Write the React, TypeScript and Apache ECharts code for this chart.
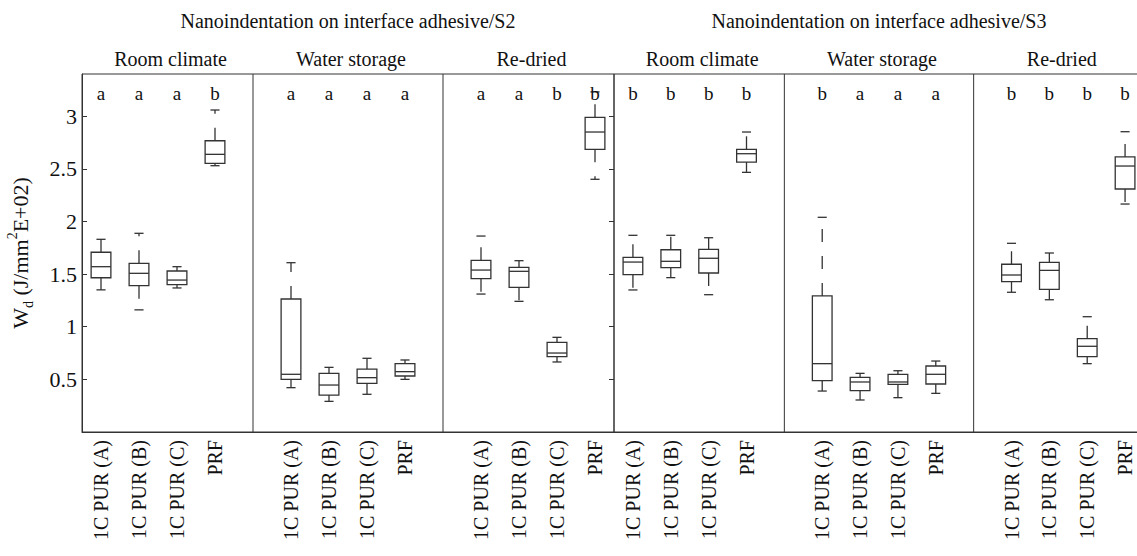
import React, { useEffect, useRef } from 'react';
import * as echarts from 'echarts';

const materials = ['1C PUR (A)', '1C PUR (B)', '1C PUR (C)', 'PRF'];
const conditions = ['Room climate', 'Water storage', 'Re-dried'];
const groupTitles = [
  'Nanoindentation on interface adhesive/S2',
  'Nanoindentation on interface adhesive/S3',
];
const yTicks = [0.5, 1, 1.5, 2, 2.5, 3];

// each box: [min, Q1, median, Q3, max]
const s2Room = [
  [1.35, 1.465, 1.57, 1.707, 1.83],
  [1.16, 1.39, 1.507, 1.602, 1.887],
  [1.368, 1.4, 1.443, 1.529, 1.57],
  [2.529, 2.552, 2.637, 2.766, 3.058],
];
const s2Water = [
  [0.421, 0.5, 0.548, 1.263, 1.608],
  [0.291, 0.351, 0.446, 0.557, 0.614],
  [0.358, 0.462, 0.516, 0.598, 0.7],
  [0.5, 0.532, 0.573, 0.649, 0.684],
];
const s2Redried = [
  [1.31, 1.456, 1.538, 1.63, 1.861],
  [1.241, 1.374, 1.526, 1.564, 1.627],
  [0.665, 0.715, 0.75, 0.852, 0.899],
  [2.4, 2.685, 2.849, 2.989, 3.23],
];
const s3Room = [
  [1.349, 1.494, 1.614, 1.659, 1.868],
  [1.466, 1.561, 1.621, 1.731, 1.868],
  [1.304, 1.51, 1.65, 1.735, 1.845],
  [2.466, 2.564, 2.643, 2.685, 2.849],
];
const s3Water = [
  [0.389, 0.487, 0.649, 1.292, 2.039],
  [0.304, 0.392, 0.475, 0.519, 0.557],
  [0.326, 0.453, 0.475, 0.548, 0.582],
  [0.367, 0.456, 0.548, 0.627, 0.674],
];
const s3Redried = [
  [1.327, 1.428, 1.491, 1.593, 1.792],
  [1.256, 1.355, 1.535, 1.611, 1.7],
  [0.649, 0.715, 0.814, 0.886, 1.095],
  [2.165, 2.308, 2.526, 2.612, 2.852],
];

const s2RoomLetters = ['a', 'a', 'a', 'b'];
const s2WaterLetters = ['a', 'a', 'a', 'a'];
const s2RedriedLetters = ['a', 'a', 'b', 'b'];
const s3RoomLetters = ['b', 'b', 'b', 'b'];
const s3WaterLetters = ['b', 'a', 'a', 'a'];
const s3RedriedLetters = ['b', 'b', 'b', 'b'];

const LETTER_Y = 3.216;
const Y_MAX = 3.4;

const groups = [
  { boxes: [s2Room, s2Water, s2Redried], letters: [s2RoomLetters, s2WaterLetters, s2RedriedLetters] },
  { boxes: [s3Room, s3Water, s3Redried], letters: [s3RoomLetters, s3WaterLetters, s3RedriedLetters] },
];

const FONT = '"Liberation Serif", "Times New Roman", serif';
const LINE = '#333';
const TEXT = '#111';

const GRID_TOP = 74;
const GRID_H = 358;
const GRID_LEFTS = [82, 614];
const GRID_WIDTHS = [532, 530];

export default function App() {
  const ref = useRef<HTMLDivElement>(null);

  useEffect(() => {
    const chart = echarts.init(ref.current!, null, { renderer: 'svg' });

    // categories: 4 materials per panel, a blank slot between panels
    const categories: string[] = [];
    conditions.forEach((_, p) => {
      materials.forEach((m) => categories.push(m));
      if (p < conditions.length - 1) categories.push('');
    });
    const slotsPerPanel = materials.length + 1;
    const dividerSlots = conditions.slice(0, -1).map((_, p) => [p * slotsPerPanel + materials.length, 0]);

    const boxRender = (params: any, api: any) => {
      const x = api.value(0);
      const pLo = api.coord([x, api.value(1)]);
      const pQ1 = api.coord([x, api.value(2)]);
      const pMed = api.coord([x, api.value(3)]);
      const pQ3 = api.coord([x, api.value(4)]);
      const pHi = api.coord([x, api.value(5)]);
      const band = api.size([1, 0])[0];
      const bw = band * 0.52;
      const cw = band * 0.24;
      const cx = pMed[0];
      const solid = { stroke: LINE, lineWidth: 1.3, fill: 'none' };
      const dashed = { stroke: LINE, lineWidth: 1.3, fill: 'none', lineDash: [13, 14] };
      return {
        type: 'group',
        children: [
          { type: 'line', shape: { x1: cx, y1: pQ3[1], x2: cx, y2: pHi[1] }, style: dashed },
          { type: 'line', shape: { x1: cx, y1: pQ1[1], x2: cx, y2: pLo[1] }, style: dashed },
          { type: 'line', shape: { x1: cx - cw / 2, y1: pHi[1], x2: cx + cw / 2, y2: pHi[1] }, style: solid },
          { type: 'line', shape: { x1: cx - cw / 2, y1: pLo[1], x2: cx + cw / 2, y2: pLo[1] }, style: solid },
          {
            type: 'rect',
            shape: { x: cx - bw / 2, y: pQ3[1], width: bw, height: pQ1[1] - pQ3[1] },
            style: { stroke: LINE, lineWidth: 1.3, fill: '#fff' },
          },
          { type: 'line', shape: { x1: cx - bw / 2, y1: pMed[1], x2: cx + bw / 2, y2: pMed[1] }, style: solid },
        ],
      };
    };

    const series: any[] = [];
    groups.forEach((g, gi) => {
      const boxData: number[][] = [];
      const letterData: number[][] = [];
      const letterText: string[] = [];
      g.boxes.forEach((panel, p) => {
        panel.forEach((b, j) => {
          const idx = p * slotsPerPanel + j;
          boxData.push([idx, ...b]);
          letterData.push([idx, LETTER_Y]);
          letterText.push(g.letters[p][j]);
        });
      });
      const yIdx = gi === 0 ? 0 : 2;
      series.push({
        type: 'custom',
        xAxisIndex: gi,
        yAxisIndex: yIdx,
        data: dividerSlots,
        encode: { x: 0, y: 1 },
        silent: true,
        renderItem: (params: any, api: any) => {
          const p = api.coord([api.value(0), 0]);
          const cs = params.coordSys;
          return {
            type: 'line',
            shape: { x1: p[0], y1: cs.y, x2: p[0], y2: cs.y + cs.height },
            style: { stroke: LINE, lineWidth: 1 },
          };
        },
      });
      series.push({
        type: 'custom',
        xAxisIndex: gi,
        yAxisIndex: yIdx,
        data: boxData,
        encode: { x: 0, y: [1, 2, 3, 4, 5] },
        silent: true,
        renderItem: boxRender,
      });
      series.push({
        type: 'custom',
        xAxisIndex: gi,
        yAxisIndex: yIdx,
        data: letterData,
        encode: { x: 0, y: 1 },
        silent: true,
        renderItem: (params: any, api: any) => {
          const p = api.coord([api.value(0), api.value(1)]);
          return {
            type: 'text',
            x: p[0],
            y: p[1],
            style: {
              text: letterText[params.dataIndex],
              fill: TEXT,
              font: `19px ${FONT}`,
              align: 'center',
              verticalAlign: 'middle',
            },
          };
        },
      });
    });

    const panelRanges = [
      [-0.5, 4],
      [4, 9],
      [9, 13.5],
    ];
    const graphics: any[] = [];
    groupTitles.forEach((t, gi) => {
      const left = GRID_LEFTS[gi];
      const w = GRID_WIDTHS[gi];
      const slotW = w / categories.length;
      graphics.push({
        type: 'text',
        x: left + w / 2,
        y: 21,
        style: { text: t, fill: TEXT, font: `20px ${FONT}`, align: 'center', verticalAlign: 'middle' },
      });
      conditions.forEach((c, p) => {
        const mid = (panelRanges[p][0] + panelRanges[p][1]) / 2;
        graphics.push({
          type: 'text',
          x: left + (mid + 0.5) * slotW + 3,
          y: 59,
          style: { text: c, fill: TEXT, font: `20px ${FONT}`, align: 'center', verticalAlign: 'middle' },
        });
      });
    });

    const grids = [0, 1].map((gi) => ({
      left: GRID_LEFTS[gi],
      top: GRID_TOP,
      width: GRID_WIDTHS[gi],
      height: GRID_H,
      show: true,
      borderColor: LINE,
      borderWidth: 1,
      backgroundColor: 'transparent',
      containLabel: false,
      outerBoundsMode: 'none',
    }));

    const xAxes = [0, 1].map((gi) => ({
      type: 'category',
      gridIndex: gi,
      data: categories,
      boundaryGap: true,
      axisLine: { show: true, lineStyle: { color: LINE, width: 1 } },
      axisTick: { show: false },
      splitLine: { show: false },
      axisLabel: {
        interval: 0,
        rotate: 90,
        margin: 8,
        color: TEXT,
        fontFamily: FONT,
        fontSize: 20,
      },
    }));

    const yBase = {
      type: 'value',
      min: 0,
      max: Y_MAX,
      interval: 0.5,
      splitLine: { show: false },
    };

    const yAxes = [
      {
        ...yBase,
        gridIndex: 0,
        position: 'left',
        axisLine: { show: true, lineStyle: { color: LINE, width: 1 } },
        axisTick: { show: true, inside: true, length: 5, lineStyle: { color: LINE }, customValues: yTicks },
        axisLabel: {
          show: true,
          margin: 5,
          color: TEXT,
          fontFamily: FONT,
          fontSize: 22,
          customValues: yTicks,
        },
        name: '{a|W}{b|d}{a| (J/mm}{c|2}{a|E+02)}',
        nameLocation: 'middle',
        nameRotate: 90,
        nameGap: 47,
        nameMoveOverlap: false,
        nameTextStyle: {
          color: TEXT,
          fontFamily: FONT,
          fontSize: 22,
          rich: {
            a: { fontFamily: FONT, fontSize: 22, lineHeight: 30, color: TEXT },
            b: { fontFamily: FONT, fontSize: 14, lineHeight: 14, verticalAlign: 'bottom', color: TEXT },
            c: { fontFamily: FONT, fontSize: 14, lineHeight: 14, verticalAlign: 'top', color: TEXT },
          },
        },
      },
      {
        ...yBase,
        gridIndex: 0,
        position: 'right',
        axisLine: { show: false },
        axisTick: { show: true, inside: true, length: 5, lineStyle: { color: LINE }, customValues: yTicks },
        axisLabel: { show: false },
      },
      {
        ...yBase,
        gridIndex: 1,
        position: 'left',
        axisLine: { show: false },
        axisTick: { show: false },
        axisLabel: { show: false },
      },
    ];

    chart.setOption({
      animation: false,
      backgroundColor: '#fff',
      textStyle: { fontFamily: FONT },
      grid: grids,
      xAxis: xAxes,
      yAxis: yAxes,
      series,
      graphic: graphics,
    });

    return () => chart.dispose();
  }, []);

  return (
    <div
      ref={ref}
      style={{ position: 'absolute', left: 0, top: 0, width: 1137, height: 556 }}
    />
  );
}
